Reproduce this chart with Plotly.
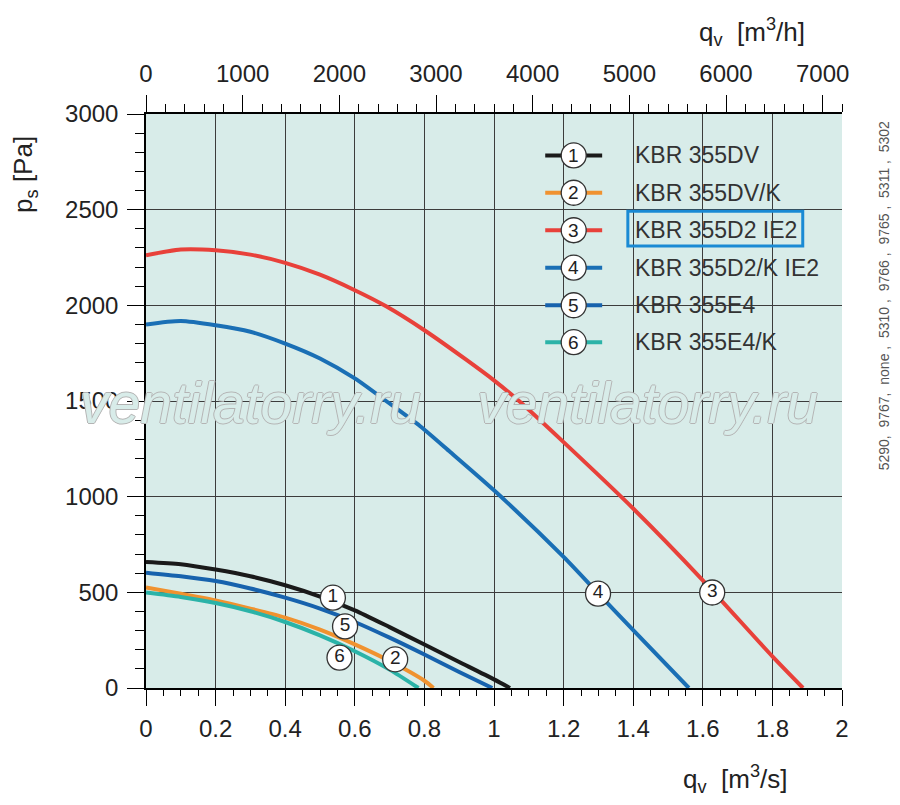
import plotly.graph_objects as go

# ---- data (q in m3/s, p in Pa) ----
q_1 = [0, 0.1, 0.2, 0.3, 0.4, 0.5, 0.6, 0.7, 0.8, 0.9, 1.0, 1.046]
p_1 = [659, 647, 619, 584, 537, 478, 406, 318, 227, 136, 45, 0]

q_2 = [0, 0.1, 0.2, 0.3, 0.4, 0.5, 0.6, 0.7, 0.8, 0.826]
p_2 = [525, 493, 458, 415, 368, 305, 228, 141, 38, 0]

q_3 = [0, 0.1, 0.2, 0.3, 0.4, 0.5, 0.6, 0.69, 0.8, 0.917, 1.0, 1.072, 1.2, 1.4, 1.6, 1.8, 1.888]
p_3 = [2262, 2292, 2288, 2265, 2222, 2160, 2079, 1995, 1870, 1720, 1608, 1500, 1285, 938, 563, 165, 0]

q_4 = [0, 0.1, 0.2, 0.3, 0.4, 0.5, 0.6, 0.69, 0.788, 0.875, 1.0, 1.2, 1.3, 1.4, 1.56]
p_4 = [1900, 1918, 1896, 1862, 1800, 1722, 1618, 1500, 1368, 1232, 1033, 685, 493, 302, 0]

q_5 = [0, 0.1, 0.2, 0.3, 0.4, 0.5, 0.6, 0.7, 0.8, 0.9, 0.995]
p_5 = [603, 584, 559, 520, 472, 415, 345, 263, 175, 84, 0]

q_6 = [0, 0.1, 0.2, 0.3, 0.4, 0.5, 0.6, 0.7, 0.783]
p_6 = [499, 476, 444, 401, 345, 275, 192, 96, 0]

series_names = ["KBR 355DV", "KBR 355DV/K", "KBR 355D2 IE2",
                "KBR 355D2/K IE2", "KBR 355E4", "KBR 355E4/K"]
series_colors = ["#1a1a1a", "#f0922f", "#e8413a", "#1a6fb5", "#1762ad", "#2bb3a8"]
series_q = [q_1, q_2, q_3, q_4, q_5, q_6]
series_p = [p_1, p_2, p_3, p_4, p_5, p_6]
series_width = [4, 4, 4, 4, 4, 4]

# circled curve labels
label_text = ["1", "2", "3", "4", "5", "6"]
label_q = [0.537, 0.716, 1.627, 1.299, 0.572, 0.556]
label_p = [472, 150, 499, 493, 322, 159]

x_ticks_s = [0, 0.2, 0.4, 0.6, 0.8, 1, 1.2, 1.4, 1.6, 1.8, 2]
y_ticks = [0, 500, 1000, 1500, 2000, 2500, 3000]
x_ticks_h = [0, 1000, 2000, 3000, 4000, 5000, 6000, 7000]
side_note = "5290,  9767,  none ,  5310 ,  9766 ,  9765 ,  5311 ,  5302"

X_RANGE = [0, 2]
Y_RANGE = [0, 3000]

BG = "#d8ece9"
GRID = "#3c3c3c"
FONT = "Liberation Sans, Arial, sans-serif"
TXT = "#222222"

fig = go.Figure()

for q, p, c, w, n in zip(series_q, series_p, series_colors, series_width, series_names):
    fig.add_trace(go.Scatter(x=q, y=p, mode="lines", name=n,
                             line=dict(color=c, width=w, shape="spline", smoothing=0.7),
                             showlegend=False, hoverinfo="skip"))

fig.add_trace(go.Scatter(x=label_q, y=label_p, mode="markers+text", text=label_text,
                         textposition="middle center",
                         textfont=dict(family=FONT, size=19, color=TXT),
                         marker=dict(symbol="circle", size=25, color="white",
                                     line=dict(color="#333333", width=1.3)),
                         showlegend=False, hoverinfo="skip"))

# invisible trace for top axis (m3/h)
fig.add_trace(go.Scatter(x=[X_RANGE[0] * 3600, X_RANGE[1] * 3600], y=[0, 0],
                         xaxis="x2", mode="lines", line=dict(width=0),
                         showlegend=False, hoverinfo="skip"))

fig.update_layout(
    width=900, height=805,
    margin=dict(l=137.5, r=66, t=106, b=125),
    paper_bgcolor="white", plot_bgcolor=BG,
    font=dict(family=FONT, color=TXT),
    xaxis=dict(range=X_RANGE, tickvals=x_ticks_s, showgrid=True, gridcolor=GRID, gridwidth=1,
               zeroline=False, showline=True, linecolor="black", linewidth=1.5,
               ticks="outside", ticklen=16, tickwidth=1.3, tickcolor="black",
               tickfont=dict(size=24, family=FONT, color=TXT), ticklabelstandoff=2,
               minor=dict(dtick=0.05, tick0=0, ticks="outside", ticklen=6,
                          tickwidth=1.2, tickcolor="black", showgrid=False)),
    xaxis2=dict(range=[X_RANGE[0] * 3600, X_RANGE[1] * 3600], overlaying="x", side="top",
                anchor="y", tickvals=x_ticks_h, showgrid=False, zeroline=False,
                showline=True, linecolor="black", linewidth=1.5,
                ticks="outside", ticklen=17, tickwidth=1.3, tickcolor="black",
                tickfont=dict(size=24, family=FONT, color=TXT), ticklabelstandoff=4,
                minor=dict(dtick=200, tick0=0, ticks="outside", ticklen=8,
                           tickwidth=1.2, tickcolor="black", showgrid=False)),
    yaxis=dict(range=Y_RANGE, tickvals=y_ticks, showgrid=True, gridcolor=GRID, gridwidth=1,
               zeroline=False, showline=True, linecolor="black", linewidth=1.5,
               ticks="outside", ticklen=17, tickwidth=1.3, tickcolor="black",
               tickfont=dict(size=24, family=FONT, color=TXT), ticklabelstandoff=4,
               minor=dict(dtick=100, tick0=0, ticks="outside", ticklen=9,
                          tickwidth=1.2, tickcolor="black", showgrid=False)),
)

shapes = []
annotations = []

# legend panel (covers grid)
shapes.append(dict(type="rect", xref="paper", yref="paper", x0=0.559, x1=0.980,
                   y0=0.5605, y1=0.9666, fillcolor=BG, line=dict(width=0), layer="between"))

legend_y = [0.9279, 0.8628, 0.7975, 0.7322, 0.6668, 0.6024]
for i, (n, c) in enumerate(zip(series_names, series_colors)):
    y = legend_y[i]
    shapes.append(dict(type="line", xref="paper", yref="paper", x0=0.5736, x1=0.6554,
                       y0=y, y1=y, line=dict(color=c, width=4), layer="above"))
    shapes.append(dict(type="circle", xref="paper", yref="paper",
                       xsizemode="pixel", ysizemode="pixel",
                       xanchor=0.6145, yanchor=y, x0=-12.5, x1=12.5, y0=-12.5, y1=12.5,
                       fillcolor="white", line=dict(color="#333333", width=1.3),
                       layer="above"))
    annotations.append(dict(xref="paper", yref="paper", x=0.6145, y=y, text=label_text[i],
                            showarrow=False, xanchor="center", yanchor="middle",
                            font=dict(size=19, family=FONT, color=TXT)))
    annotations.append(dict(xref="paper", yref="paper", x=0.700, y=y, text=n,
                            showarrow=False, xanchor="left", yanchor="middle",
                            font=dict(size=23, family=FONT, color="#333333")))

# highlight box
shapes.append(dict(type="rect", xref="paper", yref="paper", x0=0.6923, x1=0.9436,
                   y0=0.7702, y1=0.8306, line=dict(color="#1a8ad4", width=3),
                   fillcolor="rgba(0,0,0,0)", layer="above"))

# axis titles
annotations.append(dict(xref="paper", yref="paper", x=-0.1744, y=0.895,
                        text="p<sub>s</sub> [Pa]", textangle=-90, showarrow=False,
                        xanchor="center", yanchor="middle",
                        font=dict(size=26, family=FONT, color=TXT)))
annotations.append(dict(xref="paper", yref="paper", x=0.8464, y=-0.158,
                        text="q<sub>v</sub>  [m<sup>3</sup>/s]", showarrow=False,
                        xanchor="center", yanchor="middle",
                        font=dict(size=26, family=FONT, color=TXT)))
annotations.append(dict(xref="paper", yref="paper", x=0.8708, y=1.1425,
                        text="q<sub>v</sub>  [m<sup>3</sup>/h]", showarrow=False,
                        xanchor="center", yanchor="middle",
                        font=dict(size=26, family=FONT, color=TXT)))

# side note
annotations.append(dict(xref="paper", yref="paper", x=1.0603, y=0.684, text=side_note,
                        textangle=-90, showarrow=False, xanchor="center", yanchor="middle",
                        font=dict(size=14, family=FONT, color="#555555")))

# watermark
wm_shadow = ("1px 0 0 #b4b4b4, -1px 0 0 #b4b4b4, 0 1px 0 #b4b4b4, 0 -1px 0 #b4b4b4")
for xw in [0.150, 0.720]:
    annotations.append(dict(xref="paper", yref="paper", x=xw, y=0.496,
                            text="ventilatorry.ru", showarrow=False,
                            xanchor="center", yanchor="middle",
                            font=dict(size=57, family=FONT, color=BG, style="italic",
                                      shadow=wm_shadow)))

fig.update_layout(shapes=shapes, annotations=annotations)

fig.write_html("out.html")
